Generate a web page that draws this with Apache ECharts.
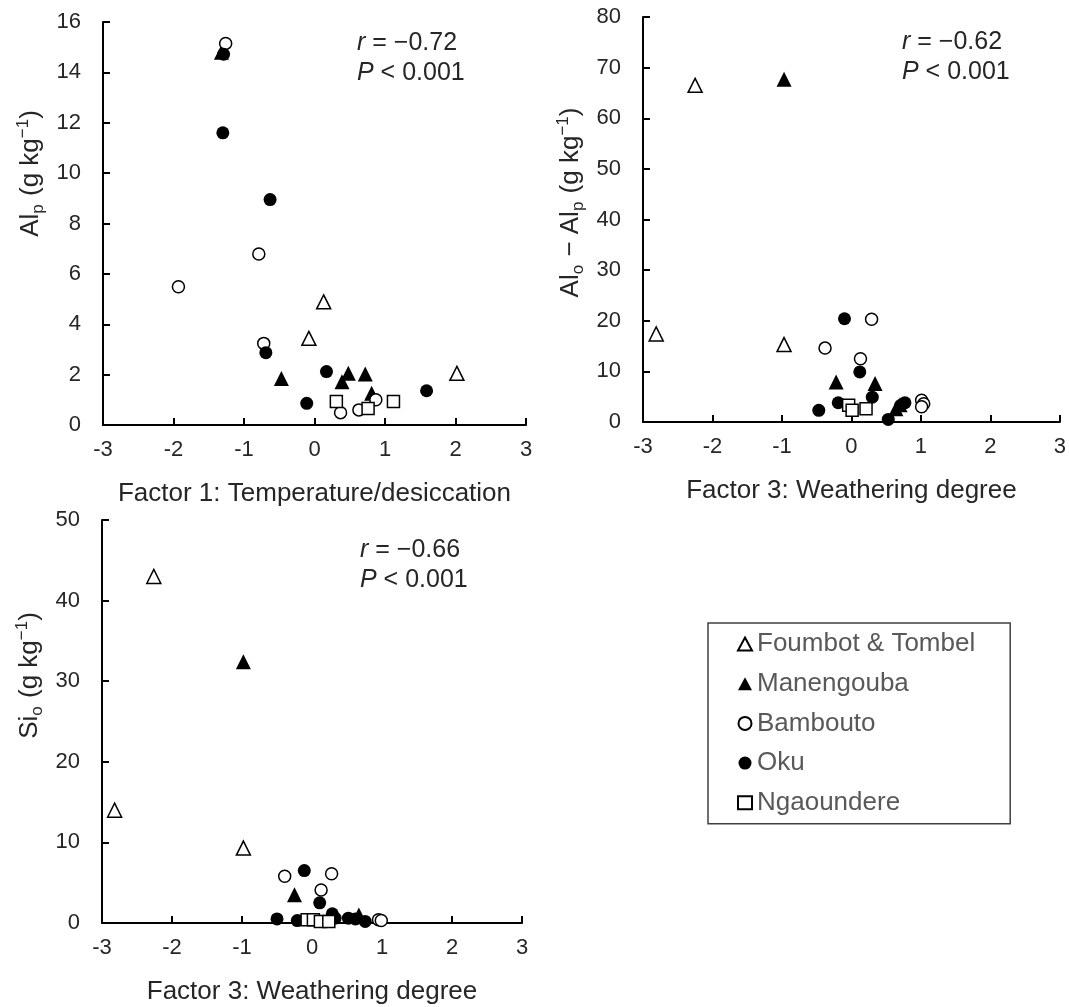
<!DOCTYPE html>
<html>
<head>
<meta charset="utf-8">
<script src="https://cdn.jsdelivr.net/npm/echarts@6/dist/echarts.min.js"></script>
<style>
  html, body { margin: 0; padding: 0; background: #fff; }
  #chart { width: 1069px; height: 1007px; }
</style>
</head>
<body>
<div id="chart"></div>
<script>
// Groups (legend order)
const groups = ['Foumbot & Tombel', 'Manengouba', 'Bambouto', 'Oku', 'Ngaoundere'];

// Panel 1: Factor 1 vs Al_p
const p1Foumbot = [[0.13, 4.89], [-0.08, 3.44], [2.02, 2.05]];
const p1Manengouba = [[-1.32, 14.8], [-0.47, 1.85], [0.48, 2.05], [0.39, 1.72], [0.72, 2.02], [0.81, 1.26]];
const p1Bambouto = [[-1.26, 15.15], [-0.79, 6.79], [-1.93, 5.49], [-0.72, 3.24], [0.37, 0.49], [0.63, 0.6], [0.87, 1.0]];
const p1Oku = [[-1.29, 14.72], [-1.30, 11.6], [-0.63, 8.95], [-0.69, 2.87], [0.17, 2.12], [-0.11, 0.86], [1.59, 1.36]];
const p1Ngaoundere = [[0.31, 0.93], [0.76, 0.66], [1.12, 0.93]];

// Panel 2: Factor 3 vs Al_o - Al_p
const p2Foumbot = [[-2.25, 66.5], [-2.81, 17.4], [-0.97, 15.3]];
const p2Manengouba = [[-0.97, 67.7], [-0.22, 7.9], [0.34, 7.6], [0.64, 2.6], [0.70, 3.4]];
const p2Bambouto = [[0.29, 20.3], [-0.38, 14.6], [0.13, 12.5], [1.01, 4.3], [1.04, 3.6], [1.01, 3.0]];
const p2Oku = [[-0.10, 20.4], [0.12, 9.9], [0.30, 4.9], [-0.47, 2.3], [-0.19, 3.8], [0.53, 0.5], [0.71, 3.3], [0.77, 3.8]];
const p2Ngaoundere = [[-0.04, 3.3], [0.01, 2.3], [0.21, 2.6]];

// Panel 3: Factor 3 vs Si_o
const p3Foumbot = [[-2.26, 43.0], [-2.82, 14.0], [-0.98, 9.3]];
const p3Manengouba = [[-0.98, 32.4], [-0.25, 3.5], [0.67, 1.0]];
const p3Bambouto = [[-0.39, 5.8], [0.28, 6.1], [0.13, 4.1], [0.95, 0.4], [0.99, 0.3]];
const p3Oku = [[-0.11, 6.5], [0.11, 2.5], [0.29, 1.15], [-0.5, 0.5], [-0.21, 0.3], [0.33, 0.6], [0.52, 0.6], [0.62, 0.5], [0.76, 0.2]];
const p3Ngaoundere = [[-0.07, 0.4], [0.02, 0.4], [0.12, 0.2], [0.24, 0.2]];

// Axis ranges
const xRange = [-3, 3, 1];
const yRanges = [[0, 16, 2], [0, 80, 10], [0, 50, 10]];

const FONT = '"Liberation Sans", Arial, sans-serif';
const TXT = '#262626';

const styles = {
  'Foumbot & Tombel': { symbol: 'triangle', size: 14, itemStyle: { color: '#fff', borderColor: '#000', borderWidth: 1.5, opacity: 1 } },
  'Manengouba': { symbol: 'triangle', size: 15, itemStyle: { color: '#000', borderColor: '#000', borderWidth: 0, opacity: 1 } },
  'Bambouto': { symbol: 'circle', size: 12, itemStyle: { color: '#fff', borderColor: '#000', borderWidth: 1.5, opacity: 1 } },
  'Oku': { symbol: 'circle', size: 13, itemStyle: { color: '#000', borderColor: '#000', borderWidth: 0, opacity: 1 } },
  'Ngaoundere': { symbol: 'rect', size: 12, itemStyle: { color: '#fff', borderColor: '#000', borderWidth: 1.5, opacity: 1 } }
};

const panelData = [
  [p1Foumbot, p1Manengouba, p1Bambouto, p1Oku, p1Ngaoundere],
  [p2Foumbot, p2Manengouba, p2Bambouto, p2Oku, p2Ngaoundere],
  [p3Foumbot, p3Manengouba, p3Bambouto, p3Oku, p3Ngaoundere]
];

const grids = [
  { left: 103, top: 22, width: 423, height: 403 },
  { left: 643, top: 17, width: 420, height: 405 },
  { left: 102, top: 520, width: 420, height: 403 }
];

const xNames = ['Factor 1: Temperature/desiccation', 'Factor 3: Weathering degree', 'Factor 3: Weathering degree'];
const yNames = [
  '{n|Al}{s|p}{n| (g kg}{u|−1}{n|)}',
  '{n|Al}{s|o}{n| − Al}{s|p}{n| (g kg}{u|−1}{n|)}',
  '{n|Si}{s|o}{n| (g kg}{u|−1}{n|)}'
];
const yNameShift = [100, 34, 92];

const nameRich = {
  n: { fontSize: 26, fontFamily: FONT, color: TXT, lineHeight: 32 },
  s: { fontSize: 17, fontFamily: FONT, color: TXT, verticalAlign: 'bottom', lineHeight: 17, padding: [0, 1, 0, 0] },
  u: { fontSize: 17, fontFamily: FONT, color: TXT, verticalAlign: 'top', lineHeight: 17 }
};

const axisLine = { show: true, onZero: false, lineStyle: { color: '#000', width: 2 } };
const axisTick = { show: true, inside: true, length: 7, lineStyle: { color: '#000', width: 2 } };

const xAxes = grids.map((g, i) => ({
  type: 'value', gridIndex: i,
  min: xRange[0], max: xRange[1], interval: xRange[2],
  axisLine, axisTick,
  splitLine: { show: false },
  axisLabel: { fontSize: 22, fontFamily: FONT, color: TXT, margin: 14 },
  name: xNames[i], nameLocation: 'middle', nameGap: 56,
  nameTextStyle: { fontSize: 26, fontFamily: FONT, color: TXT }
}));

const yAxes = grids.map((g, i) => ({
  type: 'value', gridIndex: i,
  min: yRanges[i][0], max: yRanges[i][1], interval: yRanges[i][2],
  axisLine, axisTick,
  splitLine: { show: false },
  axisLabel: { fontSize: 22, fontFamily: FONT, color: TXT, margin: 22 },
  name: yNames[i], nameLocation: 'middle', nameGap: 56,
  nameTextStyle: { rich: nameRich, padding: [0, 0, 0, yNameShift[i]] }
}));

const series = [];
panelData.forEach((sets, p) => {
  sets.forEach((data, gi) => {
    const name = groups[gi];
    const st = styles[name];
    series.push({
      name, type: 'scatter',
      xAxisIndex: p, yAxisIndex: p,
      data,
      symbol: st.symbol, symbolSize: st.size,
      itemStyle: st.itemStyle,
      emphasis: { disabled: true }
    });
  });
});

const stats = [
  { x: 357, y: 31, r: '−0.72' },
  { x: 902, y: 30, r: '−0.62' },
  { x: 360, y: 538, r: '−0.66' }
];

const graphic = stats.map(s => ({
  type: 'text', left: s.x, top: s.y,
  style: {
    text: '{i|r}{t| = ' + s.r + '}\n{i|P}{t| < 0.001}',
    rich: {
      i: { fontSize: 25, fontFamily: FONT, fontStyle: 'italic', fill: TXT, lineHeight: 30 },
      t: { fontSize: 25, fontFamily: FONT, fill: TXT, lineHeight: 30 }
    }
  }
}));

const chart = echarts.init(document.getElementById('chart'), null, { renderer: 'canvas' });
chart.setOption({
  backgroundColor: '#fff',
  animation: false,
  grid: grids,
  xAxis: xAxes,
  yAxis: yAxes,
  legend: {
    data: groups,
    orient: 'vertical',
    left: 708, top: 623,
    padding: [8, 35, 8, 29],
    itemWidth: 14, itemHeight: 13, itemGap: 13.7, itemTextGap: 5,
    borderColor: '#404040', borderWidth: 1.5,
    selectedMode: false,
    textStyle: { fontSize: 26, fontFamily: FONT, color: '#595959', lineHeight: 24 }
  },
  graphic,
  series
});
</script>
</body>
</html>
